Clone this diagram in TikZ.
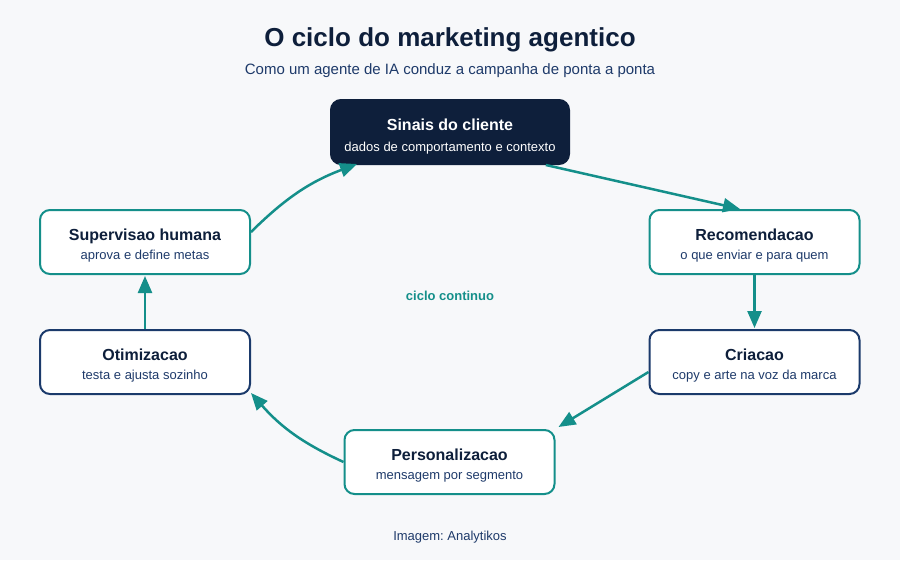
\documentclass[tikz,border=0pt]{standalone}
\usepackage{fontspec}
\setmainfont{Liberation Sans}
\usetikzlibrary{arrows.meta}
\frenchspacing
\definecolor{bg}{HTML}{F7F8FA}
\definecolor{navy}{HTML}{0E1F3B}
\definecolor{navyline}{HTML}{1B3A6B}
\definecolor{subtxt}{HTML}{1E3A6A}
\definecolor{teal}{HTML}{148F8A}
\tikzset{
  stagebox/.style={draw, line width=2pt, rounded corners=10pt, minimum width=210pt, minimum height=64pt, inner sep=0pt, fill=white},
  tealbox/.style={stagebox, draw=teal},
  navybox/.style={stagebox, draw=navyline},
  darkbox/.style={stagebox, draw=navy, fill=navy, minimum width=238pt},
  ttl/.style={anchor=base, inner sep=0pt, text=navy, font=\fontsize{16}{18}\selectfont\bfseries},
  sub/.style={anchor=base, inner sep=0pt, text=subtxt, font=\fontsize{13}{15}\selectfont},
  flow/.style={draw=teal, line width=2.5pt, -{Triangle[length=17pt,width=14pt]}}
}
\newcommand{\stagenode}[6]{%
  \node[#4] (#1) at (#2,#3) {};
  \node[ttl] (#1-t) at (#2,#3-2) {#5};
  \node[sub] (#1-s) at (#2,#3+17.5) {#6};
}
\begin{document}
\frenchspacing
\begin{tikzpicture}[x=1pt,y=-1pt]
\fill[bg] (0,0) rectangle (900,560);
\useasboundingbox (0,0) rectangle (900,560);

\node[anchor=base, inner sep=0pt, text=navy, font=\fontsize{26}{30}\selectfont\bfseries] (title) at (450,46) {O ciclo do marketing agentico};
\node[anchor=base, inner sep=0pt, text=subtxt, font=\fontsize{15}{18}\selectfont] (subtitle) at (450,74) {Como um agente de IA conduz a campanha de ponta a ponta};

\node[darkbox] (sin) at (450,132) {};
\node[ttl, text=white] (sin-t) at (450,130) {Sinais do cliente};
\node[sub, text=white] (sin-s) at (450,151) {dados de comportamento e contexto};

\stagenode{sup}{145}{242}{tealbox}{Supervisao humana}{aprova e define metas}
\stagenode{rec}{754.5}{242}{tealbox}{Recomendacao}{o que enviar e para quem}
\stagenode{oti}{145}{362}{navybox}{Otimizacao}{testa e ajusta sozinho}
\stagenode{cri}{754.5}{362}{navybox}{Criacao}{copy e arte na voz da marca}
\stagenode{per}{449.5}{462}{tealbox}{Personalizacao}{mensagem por segmento}

\node[anchor=base, inner sep=0pt, text=teal, font=\fontsize{13}{15}\selectfont\bfseries] (cyc) at (450,300.5) {ciclo continuo};
\node[anchor=base, inner sep=0pt, text=subtxt, font=\fontsize{13}{15}\selectfont] (credit) at (450,540) {Imagem: Analytikos};

\draw[flow] (sin.-19.6) -- ([xshift=-14.5pt]rec.north);
\draw[flow] (rec.south) -- ([yshift=1pt]cri.north);
\draw[flow] ([yshift=-10pt]cri.west) -- ([xshift=3pt,yshift=2pt]per.north east);
\draw[flow] (per.west) to[bend left=12] ([yshift=2pt]oti.south east);
\draw[flow] (oti.north) -- ([yshift=-1pt]sup.south);
\draw[flow] ([yshift=10pt]sup.east) to[bend left=12] ([xshift=27pt,yshift=1pt]sin.south west);
\end{tikzpicture}
\end{document}
